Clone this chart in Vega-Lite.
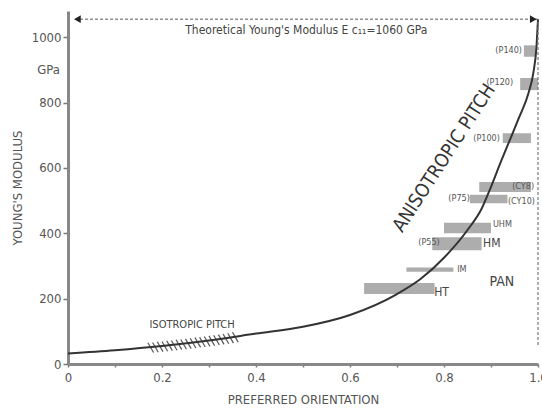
{
  "$schema": "https://vega.github.io/schema/vega-lite/v6.json",
  "width": 470,
  "height": 353,
  "autosize": "none",
  "padding": {"left": 68, "top": 11, "right": 4, "bottom": 50},
  "background": "white",
  "config": {
    "view": {"stroke": null},
    "font": "DejaVu Sans Condensed",
    "text": {"font": "DejaVu Sans Condensed", "color": "#444"}
  },
  "datasets": {
    "curve": [
      {"x": 0, "E": 32}, {"x": 0.1, "E": 42}, {"x": 0.2, "E": 55}, {"x": 0.3, "E": 72},
      {"x": 0.4, "E": 93}, {"x": 0.5, "E": 114}, {"x": 0.6, "E": 150}, {"x": 0.7, "E": 214},
      {"x": 0.75, "E": 260}, {"x": 0.8, "E": 325}, {"x": 0.85, "E": 410}, {"x": 0.88, "E": 475},
      {"x": 0.9, "E": 542}, {"x": 0.92, "E": 615}, {"x": 0.94, "E": 685}, {"x": 0.96, "E": 755},
      {"x": 0.98, "E": 830}, {"x": 0.99, "E": 890}, {"x": 0.997, "E": 975}, {"x": 1.0, "E": 1055}
    ],
    "bands": [
      {"name": "P140", "x": 0.97, "x2": 0.995, "E": 940, "E2": 975},
      {"name": "P120", "x": 0.962, "x2": 1.0, "E": 838, "E2": 875},
      {"name": "P100", "x": 0.925, "x2": 0.985, "E": 676, "E2": 706},
      {"name": "CY8", "x": 0.875, "x2": 0.985, "E": 526, "E2": 557},
      {"name": "P75", "x": 0.855, "x2": 0.935, "E": 492, "E2": 518},
      {"name": "UHM", "x": 0.8, "x2": 0.9, "E": 400, "E2": 432},
      {"name": "HM", "x": 0.775, "x2": 0.88, "E": 348, "E2": 388},
      {"name": "IM", "x": 0.72, "x2": 0.82, "E": 282, "E2": 295},
      {"name": "HT", "x": 0.63, "x2": 0.78, "E": 214, "E2": 248}
    ],
    "hatch": [
      {"hx": 0.17, "hx2": 0.182, "hy": 65, "hy2": 35},
      {"hx": 0.18, "hx2": 0.192, "hy": 66, "hy2": 36},
      {"hx": 0.19, "hx2": 0.202, "hy": 68, "hy2": 38},
      {"hx": 0.2, "hx2": 0.212, "hy": 69, "hy2": 39},
      {"hx": 0.21, "hx2": 0.222, "hy": 71, "hy2": 41},
      {"hx": 0.22, "hx2": 0.232, "hy": 72, "hy2": 42},
      {"hx": 0.23, "hx2": 0.242, "hy": 74, "hy2": 44},
      {"hx": 0.24, "hx2": 0.252, "hy": 75, "hy2": 45},
      {"hx": 0.25, "hx2": 0.262, "hy": 77, "hy2": 47},
      {"hx": 0.26, "hx2": 0.272, "hy": 79, "hy2": 49},
      {"hx": 0.27, "hx2": 0.282, "hy": 81, "hy2": 51},
      {"hx": 0.28, "hx2": 0.292, "hy": 82, "hy2": 52},
      {"hx": 0.29, "hx2": 0.302, "hy": 84, "hy2": 54},
      {"hx": 0.3, "hx2": 0.312, "hy": 86, "hy2": 56},
      {"hx": 0.31, "hx2": 0.322, "hy": 88, "hy2": 58},
      {"hx": 0.32, "hx2": 0.332, "hy": 90, "hy2": 60},
      {"hx": 0.33, "hx2": 0.342, "hy": 92, "hy2": 62},
      {"hx": 0.34, "hx2": 0.352, "hy": 94, "hy2": 64},
      {"hx": 0.35, "hx2": 0.362, "hy": 97, "hy2": 67}
    ],
    "leftLabels": [
      {"label": "(P140)", "x": 0.966, "E": 960},
      {"label": "(P120)", "x": 0.947, "E": 862},
      {"label": "(P100)", "x": 0.919, "E": 691},
      {"label": "(P75)", "x": 0.855, "E": 508},
      {"label": "(P55)", "x": 0.791, "E": 374}
    ],
    "rightLabels": [
      {"label": "(CY8)", "x": 0.945, "E": 544},
      {"label": "(CY10)", "x": 0.936, "E": 498},
      {"label": "UHM", "x": 0.904, "E": 428},
      {"label": "IM", "x": 0.828, "E": 290}
    ],
    "midLabels": [
      {"label": "HM", "x": 0.883, "E": 370},
      {"label": "HT", "x": 0.779, "E": 220}
    ],
    "arrows": [
      {"x": 0.02, "E": 1055, "dir": "left"},
      {"x": 0.99, "E": 1055, "dir": "right"}
    ]
  },
  "layer": [
    {
      "data": {"name": "bands"},
      "mark": {"type": "rect", "fill": "#8a8a8a", "opacity": 0.7},
      "encoding": {
        "x": {"field": "x", "type": "quantitative", "scale": {"domain": [0, 1]},
          "axis": {
            "values": [0, 0.1, 0.2, 0.3, 0.4, 0.5, 0.6, 0.7, 0.8, 0.9, 1.0],
            "labelExpr": "datum.value === 0 ? '0' : (round(datum.value * 10) % 2 === 0 ? format(datum.value, '.1f') : '')",
            "title": "PREFERRED ORIENTATION",
            "titleFont": "DejaVu Sans Condensed", "titleFontSize": 13, "titleFontWeight": "normal", "titleColor": "#555",
            "titlePadding": 9,
            "labelFont": "DejaVu Sans Condensed", "labelFontSize": 13, "labelColor": "#555", "labelPadding": 4,
            "labelFlush": false, "labelOverlap": false,
            "domainColor": "#888", "domainWidth": 3,
            "tickColor": "#777", "tickSize": 3, "tickWidth": 1.5,
            "grid": false
          }},
        "x2": {"field": "x2"},
        "y": {"field": "E", "type": "quantitative", "scale": {"domain": [0, 1080], "nice": false},
          "axis": {
            "values": [0, 100, 200, 300, 400, 500, 600, 700, 800, 900, 1000],
            "labelExpr": "round(datum.value / 100) % 2 === 0 ? format(datum.value, 'd') : ''",
            "title": "YOUNG'S MODULUS",
            "titleFont": "DejaVu Sans Condensed", "titleFontSize": 13, "titleFontWeight": "normal", "titleColor": "#555",
            "titlePadding": 7,
            "labelFont": "DejaVu Sans Condensed", "labelFontSize": 13, "labelColor": "#555", "labelPadding": 2,
            "labelFlush": false, "labelOverlap": false,
            "domainColor": "#888", "domainWidth": 3,
            "tickColor": "#777", "tickWidth": 1.5, "tickSize": 5,
            "grid": false
          }},
        "y2": {"field": "E2"}
      }
    },
    {
      "data": {"values": [{"label": "GPa", "x": -0.017, "E": 900}]},
      "mark": {"type": "text", "fontSize": 13, "font": "DejaVu Sans Condensed", "color": "#555", "align": "right", "baseline": "middle"},
      "encoding": {
        "x": {"field": "x", "type": "quantitative"},
        "y": {"field": "E", "type": "quantitative"},
        "text": {"field": "label"}
      }
    },
    {
      "data": {"name": "hatch"},
      "mark": {"type": "rule", "color": "#555", "strokeWidth": 1.2},
      "encoding": {
        "x": {"field": "hx", "type": "quantitative"},
        "x2": {"field": "hx2"},
        "y": {"field": "hy", "type": "quantitative"},
        "y2": {"field": "hy2"}
      }
    },
    {
      "data": {"name": "curve"},
      "mark": {"type": "line", "color": "#333", "strokeWidth": 2, "interpolate": "monotone"},
      "encoding": {
        "x": {"field": "x", "type": "quantitative"},
        "y": {"field": "E", "type": "quantitative"}
      }
    },
    {
      "data": {"values": [{"x": 0.015, "x2": 1.0, "E": 1055}]},
      "mark": {"type": "rule", "color": "#555", "strokeWidth": 1, "strokeDash": [3, 2]},
      "encoding": {
        "x": {"field": "x", "type": "quantitative"},
        "x2": {"field": "x2"},
        "y": {"field": "E", "type": "quantitative"}
      }
    },
    {
      "data": {"values": [{"x": 1.0, "E": 58, "E2": 1055}]},
      "mark": {"type": "rule", "color": "#777", "strokeWidth": 1.2, "strokeDash": [3, 2]},
      "encoding": {
        "x": {"field": "x", "type": "quantitative"},
        "y": {"field": "E", "type": "quantitative"},
        "y2": {"field": "E2"}
      }
    },
    {
      "data": {"name": "arrows"},
      "transform": [{"filter": "datum.dir === 'left'"}],
      "mark": {"type": "point", "shape": "triangle-left", "filled": true, "color": "#222", "size": 60, "opacity": 1},
      "encoding": {
        "x": {"field": "x", "type": "quantitative"},
        "y": {"field": "E", "type": "quantitative"}
      }
    },
    {
      "data": {"name": "arrows"},
      "transform": [{"filter": "datum.dir === 'right'"}],
      "mark": {"type": "point", "shape": "triangle-right", "filled": true, "color": "#222", "size": 60, "opacity": 1},
      "encoding": {
        "x": {"field": "x", "type": "quantitative"},
        "y": {"field": "E", "type": "quantitative"}
      }
    },
    {
      "data": {"values": [{"label": "Theoretical Young's Modulus E c₁₁=1060 GPa", "x": 0.507, "E": 1021}]},
      "mark": {"type": "text", "fontSize": 12, "font": "DejaVu Sans Condensed", "color": "#444", "align": "center", "baseline": "middle"},
      "encoding": {
        "x": {"field": "x", "type": "quantitative"},
        "y": {"field": "E", "type": "quantitative"},
        "text": {"field": "label"}
      }
    },
    {
      "data": {"name": "leftLabels"},
      "mark": {"type": "text", "fontSize": 9, "color": "#555", "align": "right", "baseline": "middle"},
      "encoding": {
        "x": {"field": "x", "type": "quantitative"},
        "y": {"field": "E", "type": "quantitative"},
        "text": {"field": "label"}
      }
    },
    {
      "data": {"name": "rightLabels"},
      "mark": {"type": "text", "fontSize": 9, "color": "#555", "align": "left", "baseline": "middle"},
      "encoding": {
        "x": {"field": "x", "type": "quantitative"},
        "y": {"field": "E", "type": "quantitative"},
        "text": {"field": "label"}
      }
    },
    {
      "data": {"name": "midLabels"},
      "mark": {"type": "text", "fontSize": 12, "color": "#444", "align": "left", "baseline": "middle"},
      "encoding": {
        "x": {"field": "x", "type": "quantitative"},
        "y": {"field": "E", "type": "quantitative"},
        "text": {"field": "label"}
      }
    },
    {
      "data": {"values": [{"label": "PAN", "x": 0.923, "E": 251}]},
      "mark": {"type": "text", "fontSize": 14, "color": "#444", "align": "center", "baseline": "middle"},
      "encoding": {
        "x": {"field": "x", "type": "quantitative"},
        "y": {"field": "E", "type": "quantitative"},
        "text": {"field": "label"}
      }
    },
    {
      "data": {"values": [{"label": "ISOTROPIC PITCH", "x": 0.264, "E": 119}]},
      "mark": {"type": "text", "fontSize": 11, "color": "#444", "align": "center", "baseline": "middle"},
      "encoding": {
        "x": {"field": "x", "type": "quantitative"},
        "y": {"field": "E", "type": "quantitative"},
        "text": {"field": "label"}
      }
    },
    {
      "data": {"values": [{"label": "ANISOTROPIC  PITCH", "x": 0.8, "E": 630}]},
      "mark": {"type": "text", "fontSize": 19, "color": "#333", "align": "center", "baseline": "middle", "angle": 303},
      "encoding": {
        "x": {"field": "x", "type": "quantitative"},
        "y": {"field": "E", "type": "quantitative"},
        "text": {"field": "label"}
      }
    }
  ]
}
